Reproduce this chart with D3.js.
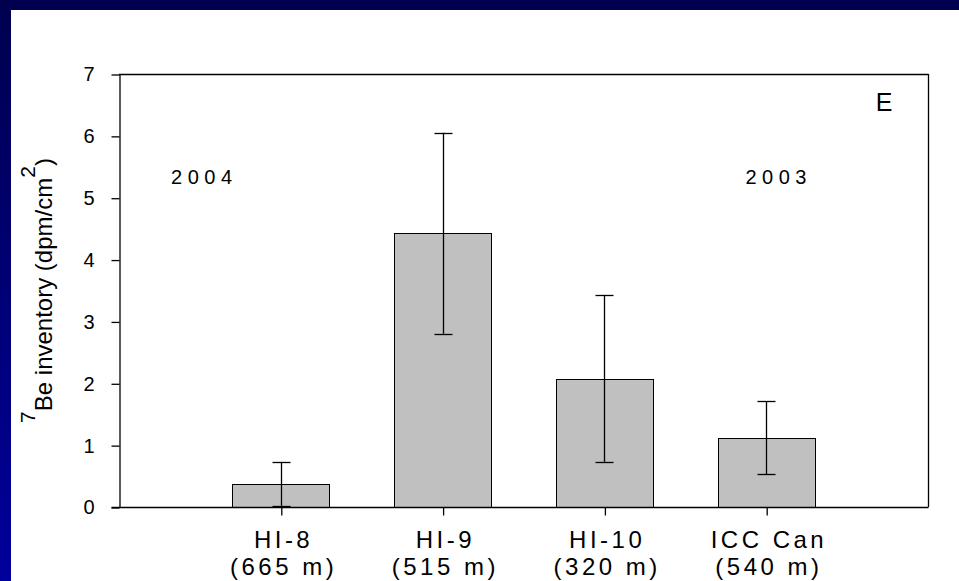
<!DOCTYPE html>
<html><head><meta charset="utf-8">
<script src="https://cdn.jsdelivr.net/npm/d3@7"></script>
<style>html,body{margin:0;padding:0;background:#fff;}svg{display:block;}</style>
</head><body>
<script>
const categories = ["HI-8", "HI-9", "HI-10", "ICC Can"];
const depths = ["(665 m)", "(515 m)", "(320 m)", "(540 m)"];
const values = [0.37, 4.43, 2.07, 1.12];
const errUpper = [0.73, 6.05, 3.43, 1.71];
const errLower = [0.02, 2.80, 0.73, 0.53];
const yTicks = [0, 1, 2, 3, 4, 5, 6, 7];
const yearLabels = [{text: "2004", pos: 0.51}, {text: "2003", pos: 4.06}];
const panelLetter = "E";

(function() {
const W = 959, H = 581;
const svg = d3.select("body").append("svg").attr("width", W).attr("height", H);
const defs = svg.append("defs");
const grad = defs.append("linearGradient").attr("id", "lg").attr("x1", 0).attr("y1", 0).attr("x2", 0).attr("y2", 1);
grad.append("stop").attr("offset", "0%").attr("stop-color", "#00004f");
grad.append("stop").attr("offset", "100%").attr("stop-color", "#00009c");
svg.append("rect").attr("x", 0).attr("y", 0).attr("width", W).attr("height", H).attr("fill", "#fff");
svg.append("rect").attr("x", 0).attr("y", 0).attr("width", 11).attr("height", H).attr("fill", "url(#lg)");
svg.append("rect").attr("x", 0).attr("y", 0).attr("width", W).attr("height", 10).attr("fill", "#00004f");

const pL = 119, pR = 928, pT = 74, pB = 507;
const x = d3.scaleLinear().domain([0, categories.length + 1]).range([pL, pR]);
const y = d3.scaleLinear().domain([0, 7]).range([pB, pT]);
const step = x(1) - x(0);
const bw = step * 0.6;
const font = "Arial, 'Liberation Sans', sans-serif";

const g = svg.append("g");
g.selectAll("rect.bar").data(values).join("rect").attr("class", "bar")
  .attr("x", (d, i) => Math.round(x(i + 1) - bw / 2) + 0.5)
  .attr("y", d => Math.round(y(d)) + 0.5)
  .attr("width", Math.round(bw))
  .attr("height", d => pB - Math.round(y(d)))
  .attr("fill", "#c0c0c0").attr("stroke", "#000").attr("stroke-width", 1);

const cap = 9;
categories.forEach((c, i) => {
  const cx = Math.round(x(i + 1)) + 0.5;
  g.append("line").attr("x1", cx).attr("x2", cx).attr("y1", y(errLower[i])).attr("y2", y(errUpper[i])).attr("stroke", "#000").attr("stroke-width", 1.3);
  [errLower[i], errUpper[i]].forEach(v => {
    g.append("line").attr("x1", cx - cap).attr("x2", cx + cap).attr("y1", Math.round(y(v)) + 0.5).attr("y2", Math.round(y(v)) + 0.5).attr("stroke", "#000").attr("stroke-width", 1.3);
  });
});

g.append("line").attr("x1", pL).attr("x2", pR + 0.5).attr("y1", pT + 0.5).attr("y2", pT + 0.5).attr("stroke", "#000").attr("stroke-width", 1.3);
g.append("line").attr("x1", pR + 0.5).attr("x2", pR + 0.5).attr("y1", pT).attr("y2", pB).attr("stroke", "#000").attr("stroke-width", 1.3);

const ya = g.append("g").attr("transform", `translate(${pL + 0.5},0.5)`)
  .call(d3.axisLeft(y).tickValues(yTicks).tickFormat(d3.format("d")).tickSize(8).tickSizeOuter(0).tickPadding(17));
ya.selectAll("text").attr("font-family", font).attr("font-size", 20).attr("fill", "#000");
ya.selectAll("line,path").attr("stroke", "#000").attr("stroke-width", 1.3);

const xa = g.append("g").attr("transform", `translate(0.5,${pB + 0.5})`)
  .call(d3.axisBottom(x).tickValues(categories.map((c, i) => i + 1)).tickFormat("").tickSize(8).tickSizeOuter(0));
xa.selectAll("line,path").attr("stroke", "#000").attr("stroke-width", 1.3);
xa.select("path.domain").attr("d", `M${pL - 8},0H${pR}`);
const ls = 3.5;
xa.selectAll("g.tick").each(function(d, i) {
  const t = d3.select(this).append("text").attr("font-family", font).attr("font-size", 24).attr("fill", "#000")
    .attr("text-anchor", "middle").attr("letter-spacing", ls + "px");
  t.append("tspan").attr("x", ls / 2).attr("y", 40).text(categories[i]);
  t.append("tspan").attr("x", ls / 2).attr("y", 67).text(depths[i]);
});

const yls = 5.5;
yearLabels.forEach(yl => {
  g.append("text").attr("x", x(yl.pos) + yls / 2).attr("y", 184).attr("font-family", font).attr("font-size", 20)
    .attr("letter-spacing", yls + "px").attr("text-anchor", "middle").text(yl.text);
});
g.append("text").attr("x", 884).attr("y", 111).attr("font-family", font).attr("font-size", 25)
  .attr("text-anchor", "middle").text(panelLetter);

const yl = g.append("text").attr("transform", `translate(52,${(pT + pB) / 2}) rotate(-90)`)
  .attr("font-family", font).attr("font-size", 24).attr("text-anchor", "middle").attr("fill", "#000");
yl.append("tspan").attr("font-size", 21).attr("dy", -17).text("7");
yl.append("tspan").attr("dy", 17).text("Be inventory (dpm/cm");
yl.append("tspan").attr("font-size", 21).attr("dy", -17).text("2");
yl.append("tspan").attr("dy", 17).text(")");
})();
</script>
</body></html>
